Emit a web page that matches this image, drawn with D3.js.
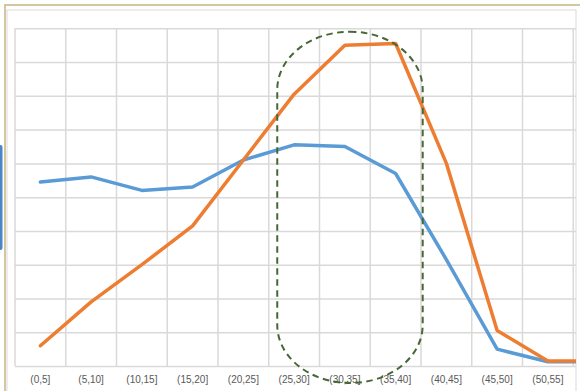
<!DOCTYPE html>
<html>
<head>
<meta charset="utf-8">
<script src="https://cdn.jsdelivr.net/npm/d3@7"></script>
<style>
  html, body { margin: 0; padding: 0; background: #fff; }
  svg { display: block; font-family: "Liberation Sans", Arial, sans-serif; }
</style>
</head>
<body>
<svg id="chart" width="580" height="391"></svg>
<script>
// Age bands (years) and the share of each group falling in them (%)
const categories = ["(0,5]", "(5,10]", "(10,15]", "(15,20]", "(20,25]", "(25,30]",
                    "(30,35]", "(35,40]", "(40,45]", "(45,50]", "(50,55]", "(55,60]"];
const seriesBlue   = [10.9, 11.2, 10.4, 10.6, 12.2, 13.1, 13.0, 11.4, 6.3, 1.0, 0.25, 0.25];
const seriesOrange = [1.2, 3.8, 6.0, 8.3, 12.2, 16.1, 19.0, 19.1, 12.0, 2.1, 0.3, 0.3];
const yTicks = [0, 2, 4, 6, 8, 10, 12, 14, 16, 18, 20];
// Bands picked out by the dashed outline
const highlight = ["(25,30]", "(35,40]"];

const svg = d3.select("#chart");

const plot = { left: 15, top: 28.3, bottom: 366, band: 50.75 };
const x = d3.scaleBand()
  .domain(categories)
  .range([plot.left, plot.left + plot.band * categories.length])
  .paddingInner(0).paddingOuter(0);
const y = d3.scaleLinear().domain([0, 20]).range([plot.bottom, plot.top]);
const cx = c => x(c) + x.bandwidth() / 2;

// Chart area border (right edge of the visible area)
const areaRight = 576;

// Outer sheet frame and chart area border
svg.append("path")
  .attr("d", "M5,391 V5 H580")
  .attr("fill", "none").attr("stroke", "#d3c7a2").attr("stroke-width", 2);

svg.append("defs").append("clipPath").attr("id", "area")
  .append("rect").attr("x", 7).attr("y", 10).attr("width", areaRight - 7).attr("height", 400);

svg.append("rect")
  .attr("x", 7).attr("y", 10).attr("width", areaRight - 7).attr("height", 400)
  .attr("fill", "none").attr("stroke", "#d9d9d9").attr("stroke-width", 1);

// Selection handle on the left edge
svg.append("rect")
  .attr("x", -2).attr("y", 145).attr("width", 4.5).attr("height", 105).attr("rx", 2)
  .attr("fill", "#4a86c8");

const g = svg.append("g").attr("clip-path", "url(#area)");
const plotRight = x.range()[1];

// Horizontal gridlines
g.append("g")
  .attr("transform", `translate(${plot.left},0)`)
  .call(d3.axisLeft(y).tickValues(yTicks).tickSize(-(plotRight - plot.left)).tickFormat(""))
  .call(a => a.select(".domain").remove())
  .call(a => a.selectAll("line").attr("stroke", "#d9d9d9").attr("stroke-width", 1.5));

// Vertical gridlines on the band boundaries
const bounds = categories.map(c => x(c)).concat([plotRight]);
g.append("g").selectAll("line").data(bounds).join("line")
  .attr("x1", d => d).attr("x2", d => d)
  .attr("y1", plot.top).attr("y2", plot.bottom)
  .attr("stroke", "#d9d9d9").attr("stroke-width", 1.5);

// Category axis labels (only bands that lie inside the chart area)
const shown = categories.filter(c => x(c) + x.bandwidth() <= areaRight);
g.append("g").selectAll("text").data(shown).join("text")
  .attr("x", d => cx(d)).attr("y", plot.bottom + 17)
  .attr("text-anchor", "middle")
  .attr("font-size", 10).attr("fill", "#595959")
  .text(d => d);

// Series lines
const line = d3.line().x((d, i) => cx(categories[i])).y(d => y(d));
[[seriesBlue, "#5b9bd5"], [seriesOrange, "#ed7d31"]].forEach(([vals, color]) => {
  g.append("path")
    .datum(vals)
    .attr("d", line)
    .attr("fill", "none")
    .attr("stroke", color)
    .attr("stroke-width", 3.5)
    .attr("stroke-linejoin", "round")
    .attr("stroke-linecap", "round");
});

// Dashed outline round the peak bands
const hx0 = x(highlight[0]) + 8.5;
const hx1 = x(highlight[1]) + x.bandwidth() + 1.7;
const hy0 = y(20) + 3.4;
const hy1 = plot.bottom + 17;
svg.append("rect")
  .attr("x", hx0).attr("y", hy0)
  .attr("width", hx1 - hx0).attr("height", hy1 - hy0)
  .attr("rx", (hx1 - hx0) / 2).attr("ry", 58)
  .attr("fill", "none")
  .attr("stroke", "#476836")
  .attr("stroke-width", 2)
  .attr("stroke-dasharray", "6.5,4.5");
</script>
</body>
</html>
